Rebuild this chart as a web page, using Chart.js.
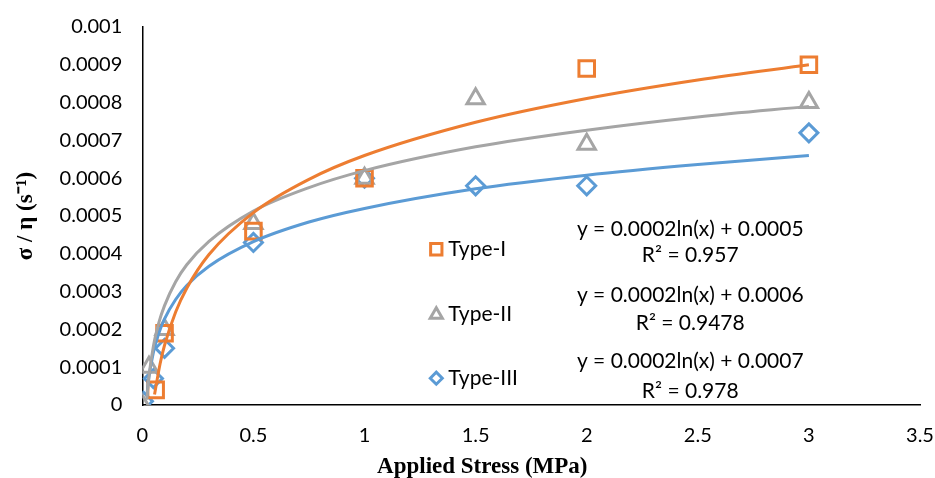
<!DOCTYPE html>
<html>
<head>
<meta charset="utf-8">
<script src="https://cdn.jsdelivr.net/npm/chart.js@4.4.0/dist/chart.umd.min.js"></script>
<style>
  html, body { margin: 0; padding: 0; background: #fff; }
  #wrap { width: 935px; height: 478px; }
</style>
</head>
<body>
<div id="wrap"><canvas id="chart"></canvas></div>
<script>
const xTicks = [0, 0.5, 1, 1.5, 2, 2.5, 3, 3.5];
const yTicks = [0, 0.0001, 0.0002, 0.0003, 0.0004, 0.0005, 0.0006, 0.0007, 0.0008, 0.0009, 0.001];

// measured points
const type1X = [0.06, 0.1, 0.5, 1, 2, 3];
const type1Y = [0.00004, 0.00019, 0.00046, 0.0006, 0.00089, 0.0009];
const type2X = [0, 0.03, 0.1, 0.5, 1, 1.5, 2, 3];
const type2Y = [0, 0.0001, 0.0002, 0.00048, 0.0006, 0.00081, 0.00069, 0.0008];
const type3X = [0.005, 0.05, 0.1, 0.5, 1, 1.5, 2, 3];
const type3Y = [0.00001, 0.00007, 0.00015, 0.00043, 0.0006, 0.00058, 0.00058, 0.00072];

// trendlines
const trend1X = [0.055, 0.08, 0.1, 0.15, 0.2, 0.3, 0.5, 0.75, 1, 1.5, 2, 2.5, 3];
const trend1Y = [0.000028, 0.000109, 0.000158, 0.000246, 0.000309, 0.000398, 0.000509, 0.000597, 0.00066, 0.000748, 0.000811, 0.00086, 0.0009];
const trend2X = [0.02, 0.03, 0.05, 0.075, 0.1, 0.15, 0.2, 0.3, 0.5, 0.75, 1, 1.5, 2, 2.5, 3];
const trend2Y = [0.000014, 0.000076, 0.000156, 0.000219, 0.000263, 0.000326, 0.000371, 0.000433, 0.000513, 0.000575, 0.00062, 0.000683, 0.000727, 0.000762, 0.00079];
const trend3X = [0.02, 0.03, 0.05, 0.075, 0.1, 0.15, 0.2, 0.3, 0.5, 0.75, 1, 1.5, 2, 2.5, 3];
const trend3Y = [0.000023, 0.000075, 0.00014, 0.000191, 0.000228, 0.000279, 0.000316, 0.000367, 0.000432, 0.000484, 0.00052, 0.000572, 0.000608, 0.000636, 0.00066];

const seriesNames = ["Type-I", "Type-II", "Type-III"];
const equations = ["y = 0.0002ln(x) + 0.0005", "y = 0.0002ln(x) + 0.0006", "y = 0.0002ln(x) + 0.0007"];
const rSquared = ["R² = 0.957", "R² = 0.9478", "R² = 0.978"];
const xTitle = "Applied Stress (MPa)";
const yTitle = "σ / η (s⁻¹)";

const ORANGE = "#ED7D31";
const GRAY = "#A5A5A5";
const BLUE = "#5B9BD5";
const colors = [ORANGE, GRAY, BLUE];
const styles = ["rect", "triangle", "rectRot"];
const radii = [11, 10, 9];

function pts(xs, ys) {
  return xs.map((x, i) => ({ x: x, y: ys[i] }));
}

function trendSet(xs, ys, color) {
  return {
    data: pts(xs, ys),
    showLine: true,
    borderColor: color,
    borderWidth: 3,
    pointRadius: 0,
    cubicInterpolationMode: "monotone",
    fill: false,
    order: 1
  };
}

function markerSet(xs, ys, i) {
  return {
    label: seriesNames[i],
    data: pts(xs, ys),
    showLine: false,
    pointStyle: styles[i],
    pointRadius: radii[i],
    pointBorderColor: colors[i],
    pointBackgroundColor: "rgba(255,255,255,0)",
    pointBorderWidth: 3,
    order: 2
  };
}

// legend + trendline labels drawn at data positions inside the plot
const legendY = [0.000412, 0.000239, 0.0000709];
const eqY = [0.000465, 0.000291, 0.000115];
const r2Y = [0.000396, 0.000215, 0.0000367];
const legendX = 1.323;
const eqX = 2.466;

const labelsPlugin = {
  id: "labels",
  afterDatasetsDraw(chart) {
    const ctx = chart.ctx;
    const xs = chart.scales.x;
    const ys = chart.scales.y;
    ctx.save();
    ctx.font = "21px Lato, 'Open Sans', sans-serif";
    ctx.textBaseline = "middle";
    for (let i = 0; i < 3; i++) {
      const lx = xs.getPixelForValue(legendX);
      const ly = ys.getPixelForValue(legendY[i]);
      ctx.strokeStyle = colors[i];
      ctx.fillStyle = "rgba(255,255,255,0)";
      ctx.lineWidth = 3;
      Chart.helpers.drawPoint(ctx, { pointStyle: styles[i], radius: radii[i] - 3, rotation: 0, borderWidth: 3 }, lx, ly);

      ctx.fillStyle = "#000";
      ctx.textAlign = "left";
      ctx.fillText(seriesNames[i], lx + 12, ly);

      ctx.textAlign = "center";
      const ex = xs.getPixelForValue(eqX);
      ctx.fillText(equations[i], ex, ys.getPixelForValue(eqY[i]));
      ctx.fillText(rSquared[i], ex, ys.getPixelForValue(r2Y[i]));
    }

    // x axis title sits a bit left of the plot centre in the original
    ctx.font = "bold 23px 'Liberation Serif', serif";
    ctx.textAlign = "center";
    ctx.textBaseline = "alphabetic";
    ctx.fillText(xTitle, xs.getPixelForValue(1.53), chart.height - 5);
    ctx.restore();
  }
};

new Chart(document.getElementById("chart"), {
  type: "scatter",
  data: {
    datasets: [
      trendSet(trend1X, trend1Y, ORANGE),
      trendSet(trend2X, trend2Y, GRAY),
      trendSet(trend3X, trend3Y, BLUE),
      markerSet(type1X, type1Y, 0),
      markerSet(type2X, type2Y, 1),
      markerSet(type3X, type3Y, 2)
    ]
  },
  options: {
    responsive: true,
    maintainAspectRatio: false,
    animation: false,
    layout: { padding: { top: 27, right: 15, left: 12, bottom: 18 } },
    plugins: {
      legend: { display: false },
      tooltip: { enabled: false }
    },
    scales: {
      x: {
        type: "linear",
        min: 0,
        max: 3.5,
        afterBuildTicks: (scale) => { scale.ticks = xTicks.map(v => ({ value: v })); },
        afterFit: (scale) => { scale.paddingRight = 0; },
        grid: { display: false, drawTicks: true, tickLength: 7, tickColor: "#000" },
        border: { color: "#000", width: 1.5 },
        ticks: {
          color: "#000",
          font: { family: "'Liberation Sans Narrow', Lato, sans-serif", size: 20 },
          padding: 12,
          maxRotation: 0,
          callback: (v) => String(v)
        }
      },
      y: {
        type: "linear",
        min: 0,
        max: 0.001,
        afterBuildTicks: (scale) => { scale.ticks = yTicks.map(v => ({ value: v })); },
        grid: { display: false, drawTicks: true, tickLength: 8, tickColor: "#000" },
        border: { color: "#000", width: 1.5 },
        ticks: {
          color: "#000",
          font: { family: "Lato, 'Open Sans', sans-serif", size: 20 },
          padding: 12,
          callback: (v) => String(Number(v.toFixed(4)))
        },
        title: {
          display: true,
          text: yTitle,
          color: "#000",
          font: { family: "'Liberation Serif', serif", size: 23, weight: "bold" },
          padding: { top: 0, bottom: 8 }
        }
      }
    }
  },
  plugins: [labelsPlugin]
});
</script>
</body>
</html>
